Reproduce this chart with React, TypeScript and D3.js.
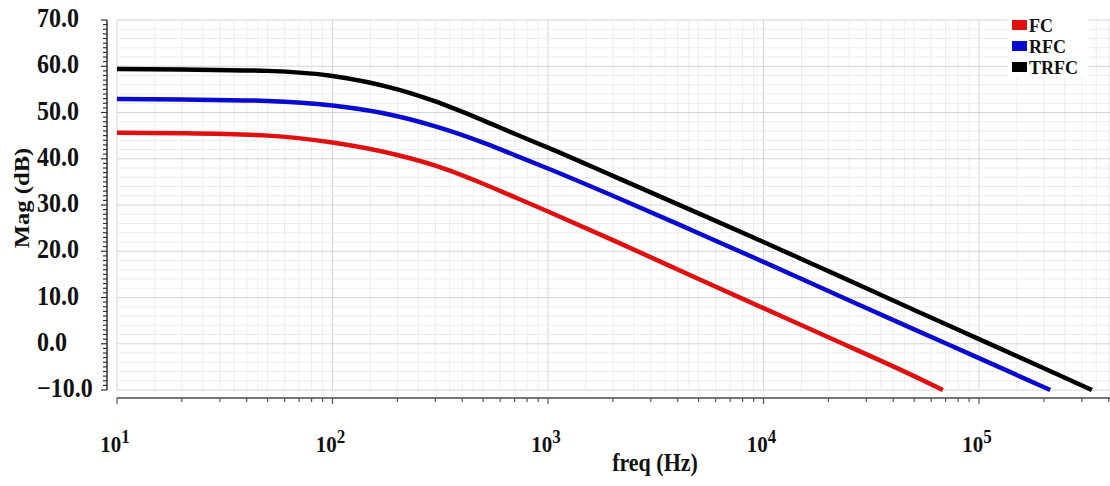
import React, { useRef, useEffect } from "react";
import * as d3 from "d3";

// values (freq in Hz, magnitude in dB)
const fcFreq = [10, 20, 50, 100, 200, 300, 500, 700, 1000, 2000, 5000, 10000, 20000, 50000, 68000];
const fcMag = [45.6, 45.5, 45.0, 43.5, 40.8, 38.5, 34.6, 31.7, 28.6, 22.4, 14.0, 7.7, 1.4, -7.0, -10];

const rfcFreq = [10, 20, 50, 100, 200, 300, 500, 700, 1000, 2000, 5000, 10000, 20000, 50000, 100000, 214000];
const rfcMag = [52.9, 52.8, 52.5, 51.5, 49.2, 47.0, 43.5, 40.8, 37.9, 32.0, 23.9, 17.7, 11.4, 3.1, -3.1, -10];

const trfcFreq = [10, 20, 50, 100, 200, 300, 500, 700, 1000, 2000, 5000, 10000, 20000, 50000, 100000, 200000, 334000];
const trfcMag = [59.4, 59.3, 59.0, 57.9, 55.0, 52.4, 48.3, 45.4, 42.4, 36.3, 28.2, 22.0, 15.7, 7.3, 1.0, -5.3, -10];

const seriesNames = ["FC", "RFC", "TRFC"];
const seriesColors = ["#e01010", "#0a0ad0", "#000000"];

const yTicks = [-10, 0, 10, 20, 30, 40, 50, 60, 70];
const xDecades = [1, 2, 3, 4, 5];

const W = 1110;
const H = 486;
const STRETCH = 1.12; // the reference text is slightly tall

const App = () => {
  const svgRef = useRef<SVGSVGElement>(null);

  useEffect(() => {
    const svg = d3.select(svgRef.current);
    svg.selectAll("*").remove();

    const left = 117;
    const right = 1110;
    const top = 20;
    const bottom = 390;

    const x = d3
      .scaleLog()
      .domain([10, Math.pow(10, 1 + (right - left) / 215.5)])
      .range([left, right]);
    const y = d3.scaleLinear().domain([-10, 70]).range([bottom, top]);

    const serif = "'Liberation Serif', 'Times New Roman', serif";

    // fine grid
    const grid = svg.append("g");
    const mults = [1, 1.5, 2, 2.5, 3, 3.5, 4, 4.5, 5, 6, 7, 8, 9];
    const vLines: number[] = [];
    for (let d = 1; d <= 5; d++) {
      mults.forEach((m) => {
        const f = m * Math.pow(10, d);
        if (x(f) <= right) vLines.push(f);
      });
    }
    grid
      .selectAll(".vg")
      .data(vLines)
      .enter()
      .append("line")
      .attr("x1", (d) => x(d))
      .attr("x2", (d) => x(d))
      .attr("y1", top)
      .attr("y2", bottom)
      .attr("stroke", (d) => (Math.abs(Math.log10(d) % 1) < 1e-6 ? "#d4d4d4" : "#ececec"))
      .attr("stroke-width", 1);

    grid
      .selectAll(".hg")
      .data(d3.range(-10, 71, 2))
      .enter()
      .append("line")
      .attr("x1", left)
      .attr("x2", right)
      .attr("y1", (d) => y(d))
      .attr("y2", (d) => y(d))
      .attr("stroke", (d) => (d % 10 === 0 ? "#d4d4d4" : "#ececec"))
      .attr("stroke-width", 1);

    // y axis
    const yAxis = svg.append("g");
    yAxis
      .append("line")
      .attr("x1", 107)
      .attr("x2", 107)
      .attr("y1", top)
      .attr("y2", bottom)
      .attr("stroke", "#333")
      .attr("stroke-width", 1.5);
    yAxis
      .selectAll(".ytm")
      .data(d3.range(-10, 71, 1))
      .enter()
      .append("line")
      .attr("x1", (d) => (d % 10 === 0 ? 101 : 103))
      .attr("x2", 107)
      .attr("y1", (d) => y(d))
      .attr("y2", (d) => y(d))
      .attr("stroke", "#333")
      .attr("stroke-width", 1.2);
    yAxis
      .selectAll(".ylab")
      .data(yTicks)
      .enter()
      .append("text")
      .attr("transform", (d) => `translate(37,${y(d) + 7}) scale(1,${STRETCH})`)
      .attr("font-family", serif)
      .attr("font-weight", "bold")
      .attr("font-size", 24)
      .attr("fill", "#111")
      .text((d) => d3.format(".1f")(d));

    // x axis
    const xAxis = svg.append("g");
    xAxis
      .append("line")
      .attr("x1", left)
      .attr("x2", right)
      .attr("y1", 398)
      .attr("y2", 398)
      .attr("stroke", "#777")
      .attr("stroke-width", 2);
    const xMinor: number[] = [];
    for (let d = 1; d <= 5; d++) {
      for (let m = 1; m <= 9; m++) {
        const f = m * Math.pow(10, d);
        if (x(f) <= right) xMinor.push(f);
      }
    }
    xAxis
      .selectAll(".xtm")
      .data(xMinor)
      .enter()
      .append("line")
      .attr("x1", (d) => x(d))
      .attr("x2", (d) => x(d))
      .attr("y1", 398)
      .attr("y2", (d) => (Math.abs(Math.log10(d) % 1) < 1e-6 ? 404 : 402))
      .attr("stroke", "#555")
      .attr("stroke-width", 1.2);

    const xl = xAxis
      .selectAll(".xlab")
      .data(xDecades)
      .enter()
      .append("text")
      .attr("transform", (d) => `translate(${x(Math.pow(10, d)) - 2},452) scale(1,${STRETCH})`)
      .attr("text-anchor", "middle")
      .attr("font-family", serif)
      .attr("font-weight", "bold")
      .attr("font-size", 21)
      .attr("fill", "#111");
    xl.append("tspan").text("10");
    xl.append("tspan")
      .attr("dy", -8)
      .attr("font-size", 17)
      .text((d) => String(d));

    // axis titles
    svg
      .append("text")
      .attr("transform", `translate(655,471) scale(1,${STRETCH})`)
      .attr("text-anchor", "middle")
      .attr("font-family", serif)
      .attr("font-weight", "bold")
      .attr("font-size", 22)
      .attr("fill", "#111")
      .text("freq (Hz)");
    svg
      .append("text")
      .attr("transform", `translate(29,198) scale(1,${STRETCH}) rotate(-90)`)
      .attr("text-anchor", "middle")
      .attr("font-family", serif)
      .attr("font-weight", "bold")
      .attr("font-size", 22)
      .attr("fill", "#111")
      .text("Mag (dB)");

    // curves
    const line = d3
      .line<[number, number]>()
      .x((d) => x(d[0]))
      .y((d) => y(d[1]))
      .curve(d3.curveMonotoneX);

    const series: [number, number][][] = [
      fcFreq.map((f, i) => [f, fcMag[i]]),
      rfcFreq.map((f, i) => [f, rfcMag[i]]),
      trfcFreq.map((f, i) => [f, trfcMag[i]]),
    ];
    series.forEach((s, i) => {
      svg
        .append("path")
        .datum(s)
        .attr("d", line)
        .attr("fill", "none")
        .attr("stroke", seriesColors[i])
        .attr("stroke-width", 4.5)
        .attr("stroke-linejoin", "round");
    });

    // legend
    const legend = svg.append("g");
    legend
      .append("rect")
      .attr("x", 1008)
      .attr("y", 14)
      .attr("width", 80)
      .attr("height", 64)
      .attr("fill", "#fff");
    seriesNames.forEach((name, i) => {
      const ly = 20 + i * 21;
      legend
        .append("rect")
        .attr("x", 1012)
        .attr("y", ly)
        .attr("width", 15)
        .attr("height", 10)
        .attr("fill", seriesColors[i]);
      legend
        .append("text")
        .attr("x", 1029)
        .attr("y", ly + 12)
        .attr("font-family", serif)
        .attr("font-weight", "bold")
        .attr("font-size", 18)
        .attr("fill", "#111")
        .text(name);
    });
  }, []);

  return (
    <svg
      ref={svgRef}
      width={W}
      height={H}
      style={{ position: "absolute", left: 0, top: 0, background: "#fff" }}
    />
  );
};

export default App;
